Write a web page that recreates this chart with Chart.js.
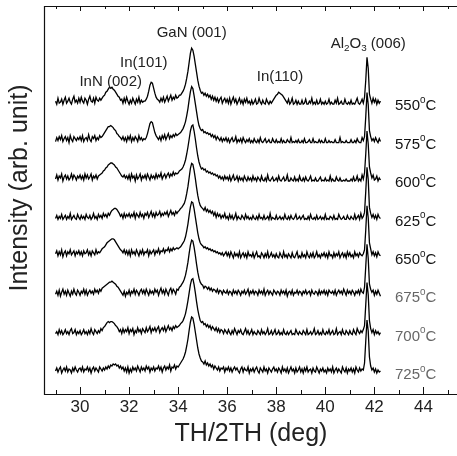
<!DOCTYPE html>
<html>
<head>
<meta charset="utf-8">
<script src="https://cdn.jsdelivr.net/npm/chart.js@4.4.0/dist/chart.umd.min.js"></script>
<style>
  html, body { margin: 0; padding: 0; background: #fff; overflow: hidden; }
  #wrap { width: 457px; height: 456px; overflow: hidden; }
</style>
</head>
<body>
<div id="wrap"><canvas id="myChart" width="470" height="456"></canvas></div>
<script>
// scan: 2theta from 29.00 deg, one reading every 0.05 deg
const TTH_START = 29.0;
const TTH_STEP = 0.05;

const temps = ['550', '575', '600', '625', '650', '675', '700', '725'];
const tickLabels = [30, 32, 34, 36, 38, 40, 42, 44];

// intensities (arb. unit), one row per degree
const i550 = [
  3,0,6,1,2,5,0,4,7,1,3,6,2,0,5,8,2,4,1,6,
  2,7,3,1,6,4,0,5,8,3,2,6,1,7,4,3,6,4,6,8,
  9,12,13,15,17,16,17,15,14,12,10,8,7,4,5,1,6,2,7,3,
  0,4,1,6,3,0,5,2,7,1,4,2,3,3,5,8,13,19,22,21,
  16,11,7,5,4,2,6,3,7,2,5,8,3,6,9,4,7,5,9,6,
  7,9,9,11,13,16,20,26,33,42,51,56,54,48,40,32,24,18,14,11,
  12,9,11,8,10,7,9,5,8,4,7,3,6,2,5,7,1,4,6,2,
  5,1,6,0,4,7,2,5,0,3,6,1,4,0,5,2,6,1,3,0,
  4,0,2,5,0,1,6,2,0,4,1,0,5,2,0,3,1,3,5,7,
  9,10,12,11,10,9,7,5,3,1,5,0,2,6,0,1,4,0,3,0,
  0,4,0,1,5,0,0,3,1,6,0,2,0,4,0,1,5,0,2,0,
  3,0,1,5,0,2,0,0,4,1,6,0,1,3,0,0,5,1,0,2,
  0,4,0,1,0,3,6,1,0,2,5,1,7,24,47,36,10,5,1,6,
  2,5,0,4,1,3
];
const i575 = [
  1,5,2,6,3,7,1,4,6,2,5,0,7,3,1,6,4,2,5,3,
  6,2,7,1,4,5,2,8,3,1,6,4,7,2,5,3,7,5,6,8,
  10,12,14,16,16,17,16,15,13,12,9,8,6,5,3,6,2,5,1,6,
  3,7,1,5,2,6,4,1,7,3,5,2,4,3,5,9,14,19,21,20,
  15,10,7,5,3,6,2,7,4,8,3,6,9,4,7,5,8,6,9,7,
  8,9,10,12,14,17,21,27,34,43,51,56,54,47,39,31,23,17,14,12,
  13,10,11,9,10,8,9,6,8,5,7,3,6,4,2,5,1,4,2,5,
  1,4,0,3,5,1,2,6,0,3,1,4,0,5,2,0,3,1,4,0,
  2,0,4,1,0,3,0,5,1,0,2,4,0,1,3,0,0,4,1,0,
  3,0,1,0,4,0,2,0,0,3,1,0,5,0,1,0,2,0,3,0,
  0,2,0,4,0,0,1,3,0,0,4,0,1,0,0,3,0,2,0,0,
  4,0,0,2,0,1,0,0,3,0,0,0,5,0,1,0,0,2,0,0,
  0,3,0,0,2,0,4,1,0,0,5,2,6,26,50,38,12,6,2,4,
  1,5,2,0,4,1
];
const i600 = [
  2,6,1,5,3,7,0,4,6,2,5,1,3,7,2,6,4,1,5,3,
  6,2,5,1,7,3,6,2,4,7,1,5,3,6,2,5,6,7,8,10,
  11,13,14,16,17,18,18,17,16,14,13,11,9,7,5,4,6,3,5,2,
  6,1,7,3,5,0,6,2,4,7,1,5,3,6,2,7,4,1,6,3,
  5,2,7,3,6,4,8,2,5,7,3,6,8,4,7,5,9,6,8,7,
  8,10,11,12,14,17,21,27,34,42,50,55,56,50,42,33,25,19,15,12,
  13,11,12,9,10,8,9,7,8,6,7,5,6,3,5,2,4,1,5,2,
  4,1,5,0,3,6,1,2,5,0,4,1,3,0,5,2,0,4,1,3,
  0,5,1,3,0,4,2,0,5,1,0,3,0,6,1,0,2,4,0,1,
  3,0,5,1,0,2,4,0,1,6,0,0,3,1,0,4,0,2,0,5,
  1,0,3,0,4,1,0,2,5,0,1,0,3,0,0,2,4,0,1,0,
  3,0,1,0,5,0,2,0,0,4,1,0,3,0,0,1,0,2,0,0,
  0,2,0,4,0,1,5,0,2,0,6,2,8,27,50,37,14,8,3,6,
  1,2,5,0,3,1
];
const i625 = [
  1,4,0,3,1,5,0,2,4,0,3,1,6,0,2,4,1,0,5,2,
  0,4,1,3,0,5,2,1,4,0,2,6,1,3,0,5,2,4,1,6,
  3,5,2,6,4,7,9,10,11,11,10,8,6,3,5,1,6,2,5,3,
  6,2,5,3,7,1,6,4,2,7,3,5,1,6,4,7,2,5,8,3,
  6,2,7,4,5,8,3,6,4,7,5,8,3,6,9,5,7,4,8,6,
  8,9,11,12,14,16,20,26,33,42,51,56,55,49,41,32,24,18,14,12,
  11,9,12,8,10,7,9,6,8,4,7,2,6,3,5,1,4,2,6,1,
  3,0,5,1,4,0,2,6,0,3,1,0,4,2,0,5,1,3,0,2,
  0,4,1,0,3,0,5,1,2,0,4,0,1,3,0,6,0,2,1,0,
  4,0,1,3,0,2,0,5,1,0,3,0,4,1,0,2,5,0,1,3,
  0,2,4,0,1,0,3,0,5,1,0,2,0,4,0,1,3,0,2,0,
  5,0,1,0,3,2,0,4,0,1,0,5,2,0,1,3,0,0,4,1,
  0,3,1,0,5,0,2,4,0,6,1,3,7,28,52,40,12,6,2,5,
  1,4,0,5,2,1
];
const i650 = [
  4,7,2,6,3,8,1,5,7,2,6,4,8,3,5,7,2,6,4,7,
  3,6,2,7,4,5,8,3,6,2,7,5,3,8,4,6,5,7,9,10,
  11,13,15,16,17,18,19,19,18,16,14,12,10,8,7,5,8,4,7,3,
  7,2,8,4,6,3,8,5,2,7,4,8,3,6,5,8,2,7,4,6,
  8,3,7,5,9,4,7,6,9,5,8,7,10,6,9,7,10,8,9,10,
  9,10,11,13,15,17,21,27,34,43,51,56,55,49,41,33,25,19,15,13,
  12,10,11,9,10,8,9,7,8,6,7,5,6,4,5,3,5,2,4,6,
  2,5,1,6,3,0,5,2,4,1,6,0,3,5,1,4,0,6,2,3,
  1,5,0,3,6,1,2,0,5,3,0,4,1,6,0,2,5,1,3,0,
  4,1,0,5,2,0,6,1,3,0,4,2,0,5,1,0,3,6,0,2,
  0,5,1,3,0,6,2,0,4,1,5,0,2,6,1,3,0,4,2,5,
  1,4,0,6,2,3,0,5,1,4,2,6,0,3,5,1,4,0,6,2,
  5,1,3,0,6,2,4,1,5,3,2,4,8,28,52,40,15,9,3,6,
  2,5,1,6,3,2
];
const i675 = [
  2,5,1,6,0,4,7,2,5,1,6,3,0,5,2,7,3,1,6,4,
  1,5,3,7,2,6,1,4,6,3,5,2,7,4,6,3,7,5,8,9,
  10,11,12,13,14,14,15,14,13,12,10,9,7,5,3,1,5,0,4,2,
  6,1,5,3,7,2,6,4,1,5,7,3,6,2,7,4,1,6,3,5,
  2,7,4,6,1,5,8,3,6,2,7,4,1,6,8,3,7,5,2,7,
  6,9,10,12,14,17,21,27,34,43,51,56,55,49,41,32,24,18,14,12,
  11,8,10,9,7,9,6,8,5,7,6,4,7,3,6,5,2,6,4,3,
  6,2,5,4,1,6,3,5,2,6,4,1,5,3,6,2,4,7,1,5,
  3,6,2,5,4,1,6,3,5,2,7,1,4,6,2,5,3,1,6,4,
  2,5,4,1,6,3,5,2,6,0,4,5,2,6,1,4,3,6,2,5,
  4,1,5,3,6,2,4,5,1,6,3,2,5,4,1,6,2,5,3,6,
  2,5,1,6,4,3,5,2,6,1,4,6,3,5,2,7,4,1,6,3,
  5,2,6,4,1,5,3,6,2,7,4,3,9,30,52,38,12,7,4,6,
  1,5,2,6,3,0
];
const i700 = [
  1,3,0,5,1,4,0,2,5,1,3,0,4,6,1,2,5,0,3,1,
  4,0,2,5,1,3,0,4,1,6,2,0,5,3,1,4,2,6,4,7,
  8,10,12,13,12,13,13,12,11,9,8,6,3,5,1,6,2,5,3,7,
  1,5,3,6,0,4,2,7,3,5,1,6,4,2,7,3,5,8,2,6,
  4,7,3,6,8,2,5,7,4,8,3,6,9,5,7,4,8,6,9,7,
  8,9,11,12,14,17,21,27,34,42,50,55,56,50,42,33,25,19,14,12,
  13,10,11,8,10,7,9,5,8,6,4,7,3,6,2,5,4,1,5,3,
  1,5,2,0,4,1,6,3,0,4,2,5,1,0,3,6,1,4,0,2,
  5,0,3,1,0,4,2,0,5,1,3,0,2,6,0,1,4,0,2,5,
  0,1,4,0,2,0,5,1,0,3,0,2,4,0,1,0,5,2,0,3,
  1,0,4,2,0,5,0,1,3,0,2,6,0,1,4,0,2,0,5,1,
  0,3,1,5,0,2,4,0,1,6,0,2,3,0,5,1,0,4,2,0,
  4,1,0,5,2,0,6,3,1,4,2,5,9,30,52,40,14,6,2,5,
  0,4,1,3,0,2
];
const i725 = [
  2,5,1,4,6,0,3,5,2,6,1,4,3,0,5,2,6,3,1,4,
  5,2,6,1,4,3,6,2,5,0,4,6,2,5,3,1,6,4,2,5,
  3,6,4,7,5,8,7,9,8,9,7,8,5,7,4,6,2,5,1,6,
  0,4,1,6,3,5,2,7,4,1,6,3,5,2,7,4,6,1,5,3,
  6,2,5,4,7,3,6,1,5,7,3,6,4,8,2,6,5,8,4,7,
  6,8,10,12,14,17,21,27,34,43,51,56,55,49,41,33,25,19,15,12,
  11,9,12,8,10,7,9,6,8,4,7,5,3,6,2,5,4,6,1,5,
  3,6,2,5,1,4,6,3,5,2,0,4,6,1,5,3,2,6,0,4,
  2,5,1,4,6,2,0,5,3,1,6,2,4,0,5,3,1,4,6,2,
  4,1,5,3,0,6,2,4,1,5,0,3,6,2,4,0,5,1,3,6,
  1,4,0,5,2,6,1,3,4,0,5,2,1,6,3,0,4,2,5,1,
  3,0,5,2,4,1,6,0,3,5,1,4,2,0,6,3,1,5,0,4,
  2,5,1,4,0,6,3,1,5,2,4,3,10,32,53,42,16,7,3,5,
  1,4,0,3,1,2
];
const series = [i550, i575, i600, i625, i650, i675, i700, i725];

// peak labels: text pieces and 2theta position
const peakNames = [
  { parts: [['InN (002)']], at: 31.25 },
  { parts: [['In(101)']], at: 32.6 },
  { parts: [['GaN (001)']], at: 34.55 },
  { parts: [['In(110)']], at: 38.15 },
  { parts: [['Al'], ['2', 'sub'], ['O'], ['3', 'sub'], [' (006)']], at: 41.75 }
];

const FONT = '"Liberation Sans", Arial, sans-serif';
const SPACING = 38.4;
const BASE = 21;
const offsetOf = k => BASE + (series.length - 1 - k) * SPACING;

const datasets = series.map((vals, k) => ({
  label: temps[k],
  data: vals.map((v, i) => ({ x: +(TTH_START + i * TTH_STEP).toFixed(2), y: v + offsetOf(k) })),
  borderColor: '#000',
  borderWidth: 1.3,
  pointRadius: 0,
  tension: 0,
  fill: false
}));

const drawParts = (ctx, parts, x, y, size, align) => {
  const pieces = parts.map(([t, kind]) => {
    const s = kind ? size * 0.66 : size;
    ctx.font = `${s}px ${FONT}`;
    return { t, kind, s, w: ctx.measureText(t).width };
  });
  const total = pieces.reduce((a, p) => a + p.w, 0);
  let cx = align === 'center' ? x - total / 2 : x;
  ctx.textBaseline = 'middle';
  ctx.textAlign = 'left';
  pieces.forEach(p => {
    ctx.font = `${p.s}px ${FONT}`;
    let dy = 0;
    if (p.kind === 'sub') dy = size * 0.3;
    if (p.kind === 'sup') dy = -size * 0.4;
    ctx.fillText(p.t, cx, y + dy);
    cx += p.w;
  });
};

const decor = {
  id: 'decor',
  afterDraw(chart) {
    const { ctx, chartArea: a, scales: { x, y } } = chart;
    ctx.save();
    ctx.strokeStyle = '#111';
    ctx.lineWidth = 1.2;
    ctx.beginPath();
    ctx.moveTo(a.right + 5, a.top + 0.5);
    ctx.lineTo(a.left + 0.5, a.top + 0.5);
    ctx.lineTo(a.left + 0.5, a.bottom + 0.5);
    ctx.lineTo(a.right + 5, a.bottom + 0.5);
    ctx.stroke();

    ctx.lineWidth = 1;
    for (let v = 29; v <= 45; v++) {
      const px = Math.round(x.getPixelForValue(v)) + 0.5;
      const major = v % 2 === 0;
      ctx.beginPath();
      ctx.moveTo(px, a.bottom);
      ctx.lineTo(px, a.bottom - (major ? 7 : 4));
      ctx.moveTo(px, a.top);
      ctx.lineTo(px, a.top + (major ? 5 : 3));
      ctx.stroke();
    }

    // temperature labels
    temps.forEach((t, k) => {
      const py = y.getPixelForValue(offsetOf(k)) + 2;
      ctx.fillStyle = k >= 5 ? '#666' : '#111';
      drawParts(ctx, [[t], ['0', 'sup'], ['C']], 395, py, 15, 'left');
    });

    // peak labels
    ctx.fillStyle = '#222';
    const labelY = [82, 63, 33, 77, 44];
    peakNames.forEach((p, i) => {
      drawParts(ctx, p.parts, x.getPixelForValue(p.at), labelY[i], 15, 'center');
    });

    // axis titles
    ctx.font = `25px ${FONT}`;
    ctx.textAlign = 'center';
    ctx.textBaseline = 'middle';
    ctx.fillText('TH/2TH (deg)', 251, 434);
    ctx.translate(20, 188);
    ctx.rotate(-Math.PI / 2);
    ctx.fillText('Intensity (arb. unit)', 0, 0);
    ctx.restore();
  }
};

new Chart(document.getElementById('myChart'), {
  type: 'line',
  data: { datasets },
  options: {
    responsive: false,
    animation: false,
    devicePixelRatio: 1,
    layout: { padding: { top: 6, left: 44, right: 0, bottom: 0 } },
    plugins: { legend: { display: false }, tooltip: { enabled: false } },
    scales: {
      x: {
        type: 'linear',
        min: 28.53,
        max: 45.9,
        grid: { display: false, drawTicks: false },
        border: { display: false },
        afterBuildTicks: scale => { scale.ticks = tickLabels.map(v => ({ value: v })); },
        afterFit: scale => { scale.height = 62; },
        ticks: {
          autoSkip: false,
          maxRotation: 0,
          padding: 3,
          color: '#222',
          font: { family: FONT, size: 17 },
          callback: v => String(v)
        }
      },
      y: { display: false, min: 0, max: 388 }
    }
  },
  plugins: [decor]
});
</script>
</body>
</html>
